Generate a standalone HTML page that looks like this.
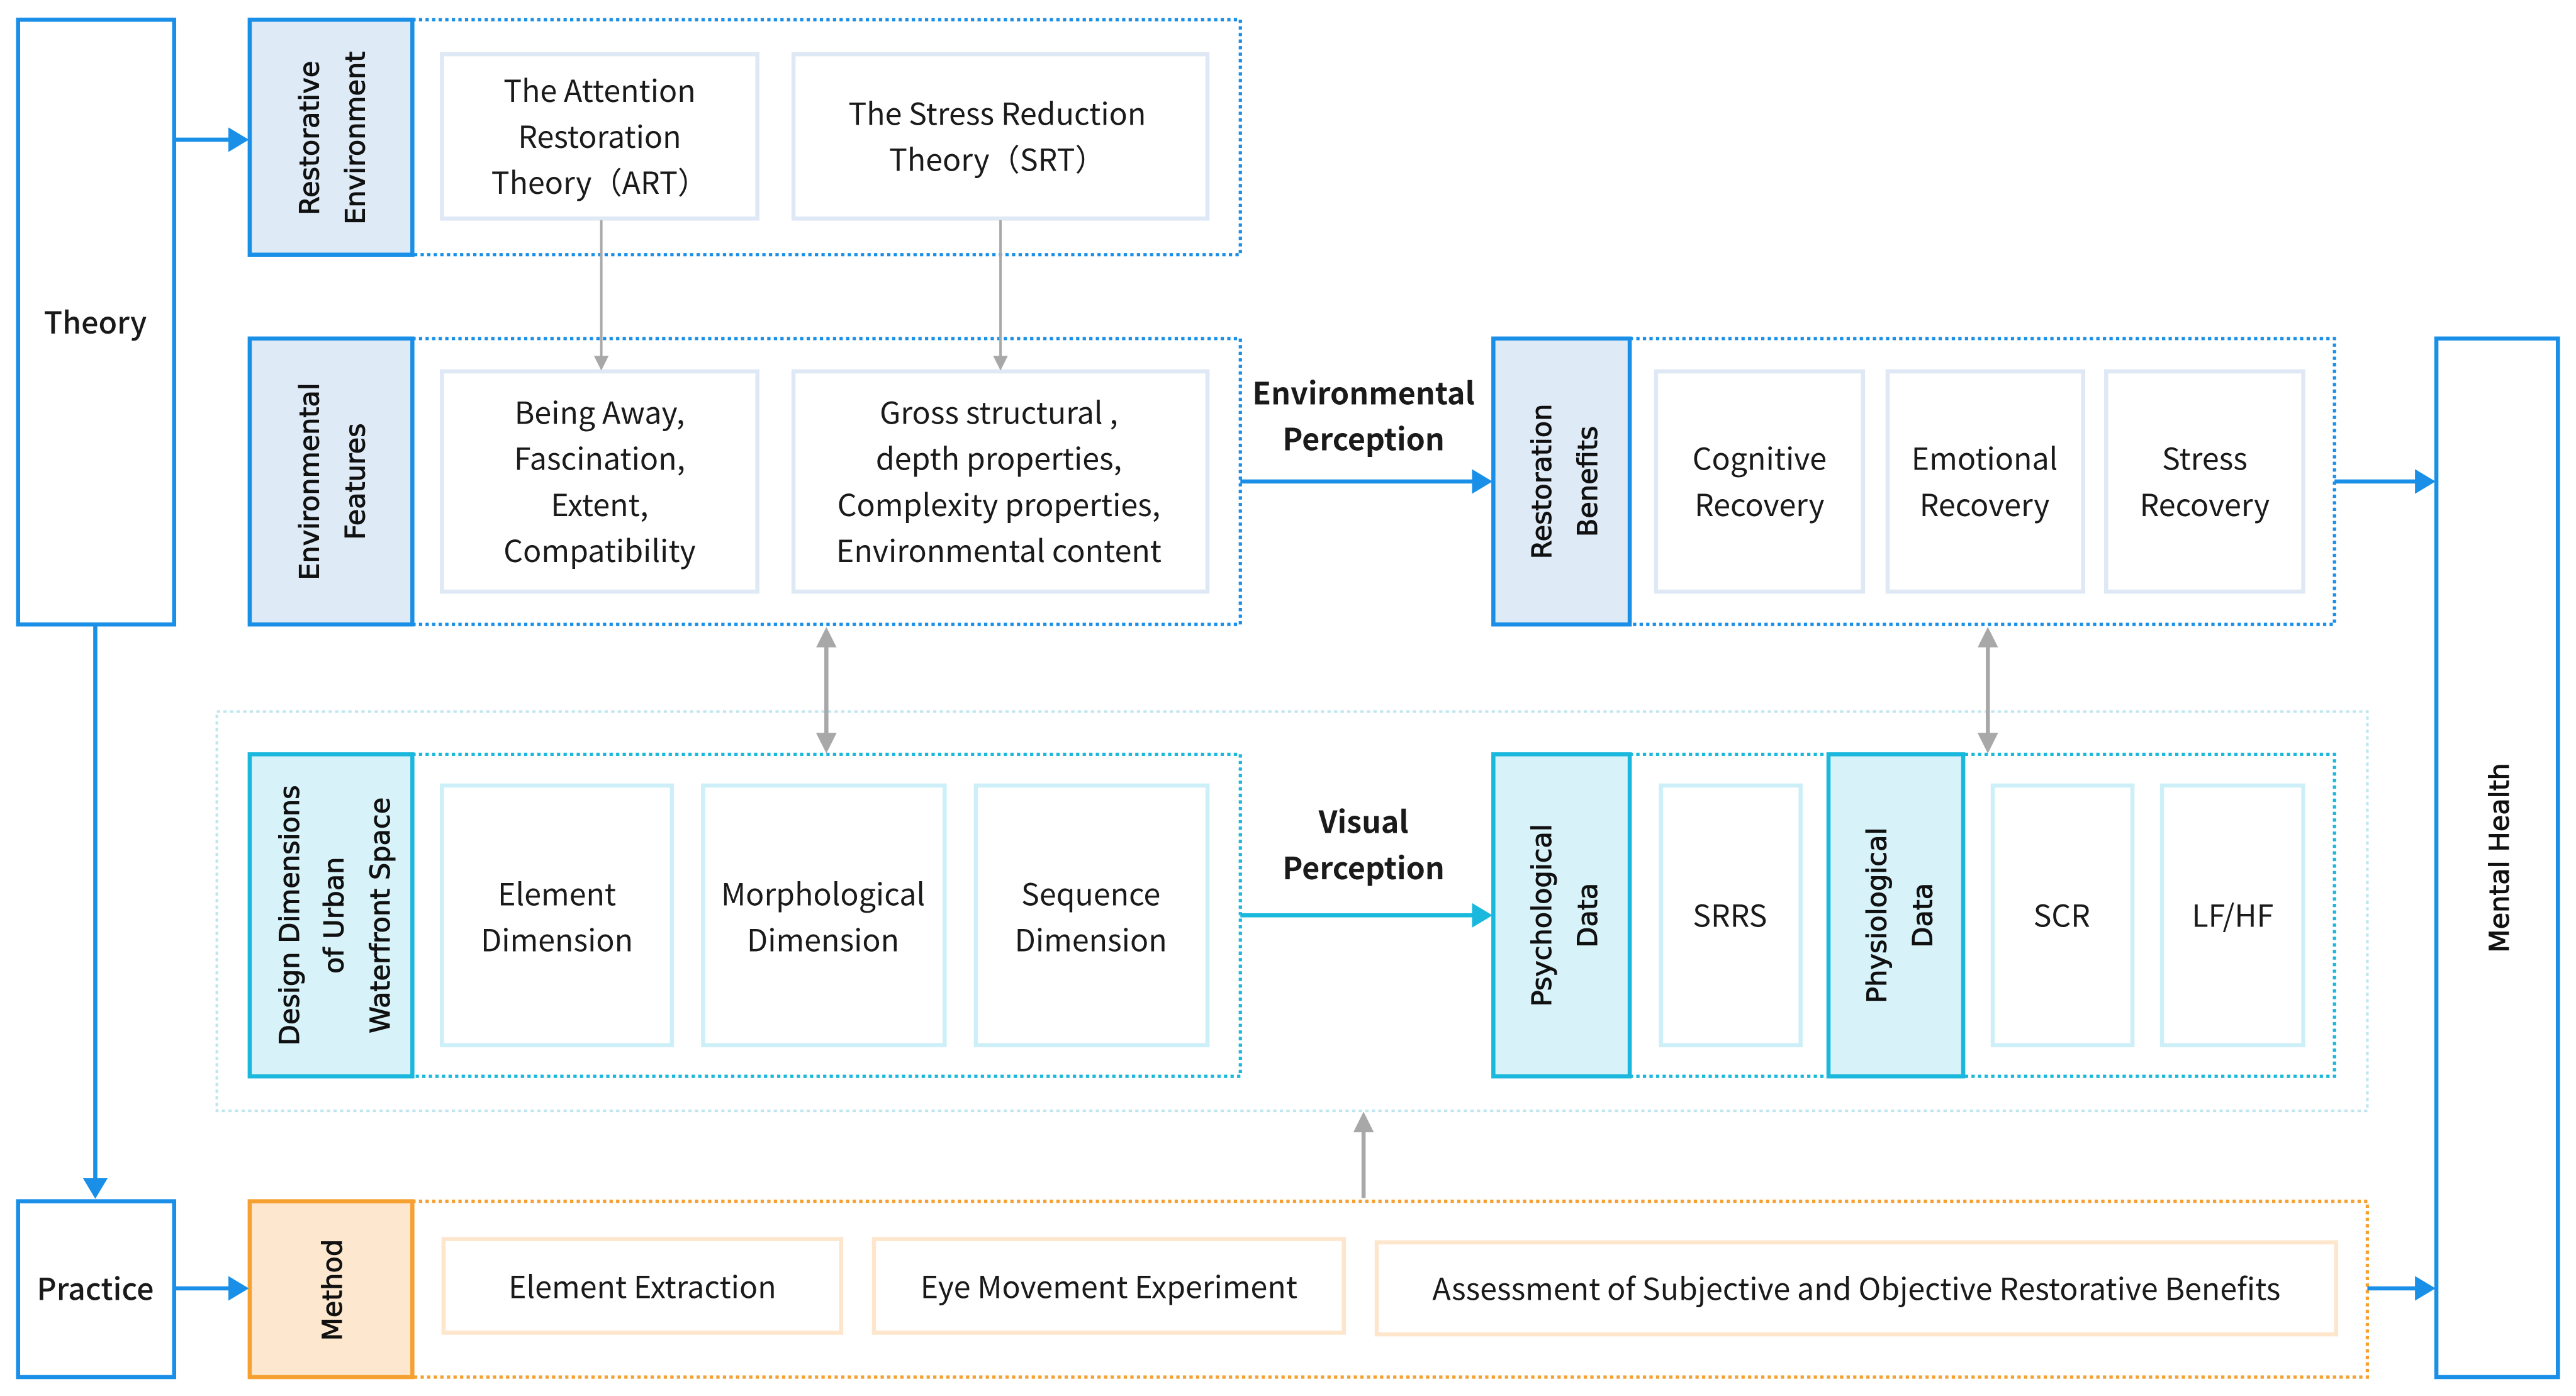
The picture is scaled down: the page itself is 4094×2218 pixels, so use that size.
<!DOCTYPE html>
<html><head><meta charset="utf-8"><style>
html,body{margin:0;padding:0;background:#fff;}
svg{display:block;}
text{font-family:"Noto Sans CJK SC","Liberation Sans",sans-serif;font-size:18.5px;fill:#1a1a1a;text-anchor:middle;}
.lab{font-family:"DejaVu Sans","Liberation Sans",sans-serif;font-weight:normal;font-size:16.5px;fill:#111;stroke:#111;stroke-width:0.4;}
.b{font-weight:bold;}
.m{font-weight:500;}
</style></head><body>
<svg width="4094" height="2218" viewBox="0 0 1568 849.5" preserveAspectRatio="none" xmlns="http://www.w3.org/2000/svg">
<defs>
<marker id="ab" markerWidth="5" markerHeight="6" refX="4" refY="3" orient="auto" markerUnits="strokeWidth"><path d="M0,0 L5,3 L0,6z" fill="#1a8fe8"/></marker>
<marker id="ac" markerWidth="5" markerHeight="6" refX="4" refY="3" orient="auto" markerUnits="strokeWidth"><path d="M0,0 L5,3 L0,6z" fill="#1ab8dc"/></marker>
<marker id="ag" markerWidth="6" markerHeight="6" refX="5" refY="3" orient="auto-start-reverse" markerUnits="strokeWidth"><path d="M0,0 L6,3 L0,6z" fill="#a8a8a8"/></marker>
<marker id="ag2" markerWidth="5" markerHeight="5" refX="4" refY="2.5" orient="auto-start-reverse" markerUnits="strokeWidth"><path d="M0,0 L5,2.5 L0,5z" fill="#a8a8a8"/></marker>
</defs>
<g fill="none">
<rect x="132" y="433" width="1309" height="243" stroke="#bfe6f0" stroke-width="1.6" stroke-dasharray="2,2"/>
<rect x="251" y="12" width="504" height="143" stroke="#1a8fe8" stroke-width="2" stroke-dasharray="2,2"/>
<rect x="251" y="206" width="504" height="174" stroke="#1a8fe8" stroke-width="2" stroke-dasharray="2,2"/>
<rect x="992" y="206" width="429" height="174" stroke="#1a8fe8" stroke-width="2" stroke-dasharray="2,2"/>
<rect x="251" y="459" width="504" height="196" stroke="#1ab8dc" stroke-width="2" stroke-dasharray="2,2"/>
<rect x="992" y="459" width="429" height="196" stroke="#1ab8dc" stroke-width="2" stroke-dasharray="2,2"/>
<rect x="251" y="731" width="1190" height="107" stroke="#f5a030" stroke-width="2" stroke-dasharray="2,2"/>
<rect x="11" y="12" width="95" height="368" stroke="#1a8fe8" stroke-width="2.5"/>
<rect x="11" y="731" width="95" height="107" stroke="#1a8fe8" stroke-width="2.5"/>
<rect x="1483" y="206" width="74" height="632" stroke="#1a8fe8" stroke-width="2.5"/>
<rect x="152" y="12" width="99" height="143" fill="#dfeaf7" stroke="#1a8fe8" stroke-width="2.5"/>
<rect x="152" y="206" width="99" height="174" fill="#dfeaf7" stroke="#1a8fe8" stroke-width="2.5"/>
<rect x="909" y="206" width="83" height="174" fill="#dfeaf7" stroke="#1a8fe8" stroke-width="2.5"/>
<rect x="152" y="459" width="99" height="196" fill="#d7f2f9" stroke="#1ab8dc" stroke-width="2.5"/>
<rect x="909" y="459" width="83" height="196" fill="#d7f2f9" stroke="#1ab8dc" stroke-width="2.5"/>
<rect x="1113" y="459" width="82" height="196" fill="#d7f2f9" stroke="#1ab8dc" stroke-width="2.5"/>
<rect x="152" y="731" width="99" height="107" fill="#fde8cf" stroke="#f5a030" stroke-width="2.5"/>
<g stroke="#dfe8f5" stroke-width="2.5">
<rect x="269" y="33" width="192" height="100"/>
<rect x="483" y="33" width="252" height="100"/>
<rect x="269" y="226" width="192" height="134"/>
<rect x="483" y="226" width="252" height="134"/>
<rect x="1008" y="226" width="126" height="134"/>
<rect x="1149" y="226" width="119" height="134"/>
<rect x="1282" y="226" width="120" height="134"/>
</g>
<g stroke="#cdeff8" stroke-width="2.5">
<rect x="269" y="478" width="140" height="158"/>
<rect x="428" y="478" width="147" height="158"/>
<rect x="594" y="478" width="141" height="158"/>
<rect x="1011" y="478" width="85" height="158"/>
<rect x="1213" y="478" width="85" height="158"/>
<rect x="1316" y="478" width="86" height="158"/>
</g>
<g stroke="#fde6cc" stroke-width="2.5">
<rect x="270" y="754" width="242" height="57"/>
<rect x="532" y="754" width="286" height="57"/>
<rect x="838" y="756" width="584" height="56"/>
</g>
<g stroke="#1a8fe8" stroke-width="2.5">
<line x1="106" y1="85" x2="149" y2="85" marker-end="url(#ab)"/>
<line x1="106" y1="784" x2="149" y2="784" marker-end="url(#ab)"/>
<line x1="58" y1="380" x2="58" y2="727" marker-end="url(#ab)"/>
<line x1="755" y1="293" x2="906" y2="293" marker-end="url(#ab)"/>
<line x1="1421" y1="293" x2="1480" y2="293" marker-end="url(#ab)"/>
<line x1="1441" y1="784" x2="1480" y2="784" marker-end="url(#ab)"/>
</g>
<line x1="755" y1="557" x2="906" y2="557" stroke="#1ab8dc" stroke-width="2.5" marker-end="url(#ac)"/>
<g stroke="#a8a8a8">
<line x1="366" y1="134" x2="366" y2="224" stroke-width="1.5" marker-end="url(#ag)"/>
<line x1="609" y1="134" x2="609" y2="224" stroke-width="1.5" marker-end="url(#ag)"/>
<line x1="503" y1="384" x2="503" y2="456" stroke-width="2.5" marker-start="url(#ag2)" marker-end="url(#ag2)"/>
<line x1="1210" y1="384" x2="1210" y2="456" stroke-width="2.5" marker-start="url(#ag2)" marker-end="url(#ag2)"/>
<line x1="830" y1="729" x2="830" y2="679" stroke-width="2.5" marker-end="url(#ag2)"/>
</g>
</g>
<text x="58" y="203" class="m">Theory</text>
<text x="58" y="791" class="m">Practice</text>
<text x="365" y="62">The Attention</text>
<text x="365" y="90">Restoration</text>
<text x="365" y="118">Theory（ART）</text>
<text x="607" y="76">The Stress Reduction</text>
<text x="607" y="104">Theory（SRT）</text>
<text x="365" y="258">Being Away,</text>
<text x="365" y="286">Fascination,</text>
<text x="365" y="314">Extent,</text>
<text x="365" y="342">Compatibility</text>
<text x="608" y="258">Gross structural ,</text>
<text x="608" y="286">depth properties,</text>
<text x="608" y="314">Complexity properties,</text>
<text x="608" y="342">Environmental content</text>
<text x="830" y="246" class="b">Environmental</text>
<text x="830" y="274" class="b">Perception</text>
<text x="830" y="507" class="b">Visual</text>
<text x="830" y="535" class="b">Perception</text>
<text x="1071" y="286">Cognitive</text>
<text x="1071" y="314">Recovery</text>
<text x="1208" y="286">Emotional</text>
<text x="1208" y="314">Recovery</text>
<text x="1342" y="286">Stress</text>
<text x="1342" y="314">Recovery</text>
<text x="339" y="551">Element</text>
<text x="339" y="579">Dimension</text>
<text x="501" y="551">Morphological</text>
<text x="501" y="579">Dimension</text>
<text x="664" y="551">Sequence</text>
<text x="664" y="579">Dimension</text>
<text x="1053" y="564">SRRS</text>
<text x="1255" y="564">SCR</text>
<text x="1359" y="564">LF/HF</text>
<text x="391" y="790">Element  Extraction</text>
<text x="675" y="790">Eye Movement Experiment</text>
<text x="1130" y="791">Assessment of Subjective and Objective Restorative Benefits</text>
<text class="lab" transform="translate(194,84) rotate(-90)">Restorative</text>
<text class="lab" transform="translate(222,84) rotate(-90)">Environment</text>
<text class="lab" transform="translate(194,293) rotate(-90)">Environmental</text>
<text class="lab" transform="translate(222,293) rotate(-90)">Features</text>
<text class="lab" transform="translate(944,293) rotate(-90)">Restoration</text>
<text class="lab" transform="translate(972,293) rotate(-90)">Benefits</text>
<text class="lab" transform="translate(182,557) rotate(-90)">Design Dimensions</text>
<text class="lab" transform="translate(209,557) rotate(-90)">of Urban</text>
<text class="lab" transform="translate(237,557) rotate(-90)">Waterfront Space</text>
<text class="lab" transform="translate(944,557) rotate(-90)">Psychological</text>
<text class="lab" transform="translate(972,557) rotate(-90)">Data</text>
<text class="lab" transform="translate(1148,557) rotate(-90)">Physiological</text>
<text class="lab" transform="translate(1176,557) rotate(-90)">Data</text>
<text class="lab" transform="translate(208,785) rotate(-90)">Method</text>
<text class="lab" transform="translate(1527,522) rotate(-90)">Mental Health</text>
</svg>
</body></html>
